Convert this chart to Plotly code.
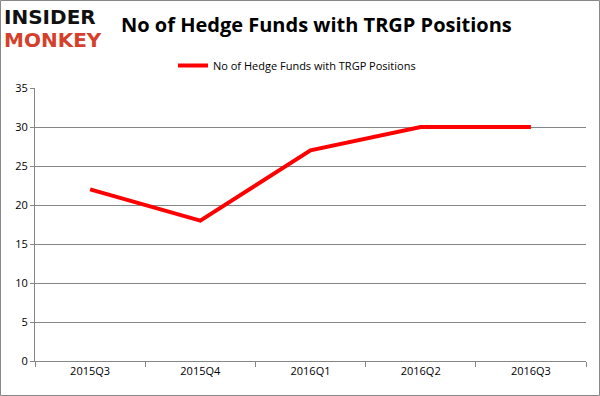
import plotly.graph_objects as go

categories = ["2015Q3", "2015Q4", "2016Q1", "2016Q2", "2016Q3"]
values = [22, 18, 27, 30, 30]
series_name = "No of Hedge Funds with TRGP Positions"
title_text = "No of Hedge Funds with TRGP Positions"
y_ticks = [0, 5, 10, 15, 20, 25, 30, 35]

W, H = 600, 396
L, R, T, B = 35, 14, 88, 35
pw, ph = W - L - R, H - T - B

fig = go.Figure()
fig.add_trace(go.Scatter(
    x=categories, y=values, mode="lines", name=series_name,
    line=dict(color="#ff0000", width=4),
))

grid = "#868686"
fig.update_layout(
    width=W, height=H,
    margin=dict(l=L, r=R, t=T, b=B, autoexpand=False),
    paper_bgcolor="white", plot_bgcolor="white",
    font=dict(family="Open Sans", size=11, color="#000000"),
    showlegend=True,
    legend=dict(
        orientation="h", xref="container", yref="container",
        x=173 / W, xanchor="left",
        y=1 - 51 / H, yanchor="top",
        font=dict(family="Open Sans", size=11, color="#000000"),
        bgcolor="rgba(0,0,0,0)", itemwidth=30,
    ),
    xaxis=dict(
        type="category", tickson="boundaries", ticks="outside", ticklen=5,
        tickcolor=grid, showline=True, linecolor=grid, linewidth=1,
        showgrid=False, range=[-0.5, 4.5], fixedrange=True, automargin=False,
        tickfont=dict(size=11, color="#000000"),
    ),
    yaxis=dict(
        range=[0, 35], tickvals=y_ticks, ticks="outside", ticklen=4,
        tickcolor=grid, showline=True, linecolor=grid, linewidth=1,
        showgrid=True, gridcolor=grid, gridwidth=1, zeroline=False, automargin=False,
        tickfont=dict(size=11, color="#000000"),
    ),
    annotations=[
        dict(text="<b>" + title_text + "</b>", xref="paper", yref="paper",
             x=(316 - L) / pw, y=1 + (T - 25) / ph, xanchor="center", yanchor="middle",
             showarrow=False, font=dict(family="Open Sans", size=20, color="#000000")),
        dict(text="<b>INSIDER</b>", xref="paper", yref="paper",
             x=(2 - L) / pw, y=1 + (T - 17) / ph, xanchor="left", yanchor="middle",
             showarrow=False, font=dict(family="DejaVu Sans", size=20, color="#111111")),
        dict(text="<b>MONKEY</b>", xref="paper", yref="paper",
             x=(2 - L) / pw, y=1 + (T - 40) / ph, xanchor="left", yanchor="middle",
             showarrow=False, font=dict(family="DejaVu Sans", size=20, color="#d5402b")),
    ],
    shapes=[
        dict(type="rect", xref="paper", yref="paper",
             x0=(0.5 - L) / pw, x1=(W - 0.5 - L) / pw,
             y0=-(B - 0.5) / ph, y1=1 + (T - 0.5) / ph,
             line=dict(color="#888888", width=1), fillcolor="rgba(0,0,0,0)"),
    ],
)

fig.write_html("out.html", config={"displayModeBar": False},
               post_script="document.body.style.margin='0';")
